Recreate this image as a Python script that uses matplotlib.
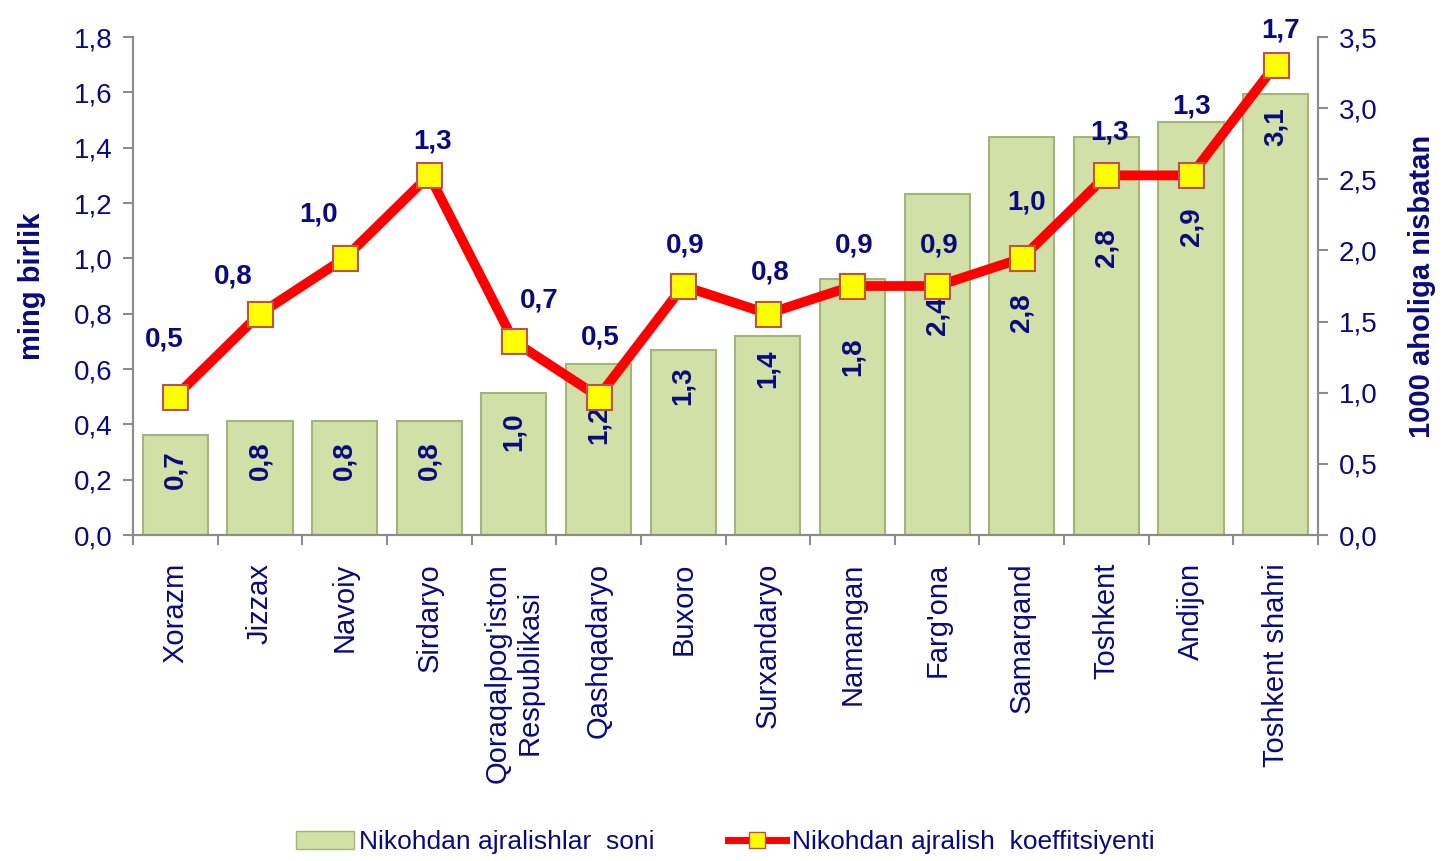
import matplotlib
matplotlib.use('Agg')
import matplotlib.pyplot as plt
from matplotlib.lines import Line2D
from matplotlib.patches import Patch

plt.rcParams['font.family'] = ['Liberation Sans', 'DejaVu Sans']

regions = ['Xorazm', 'Jizzax', 'Navoiy', 'Sirdaryo', "Qoraqalpog'iston\nRespublikasi",
           'Qashqadaryo', 'Buxoro', 'Surxandaryo', 'Namangan', "Farg'ona",
           'Samarqand', 'Toshkent', 'Andijon', 'Toshkent shahri']
# bars - right axis (1000 aholiga nisbatan)
soni = [0.7, 0.8, 0.8, 0.8, 1.0, 1.2, 1.3, 1.4, 1.8, 2.4, 2.8, 2.8, 2.9, 3.1]
# line - left axis (ming birlik)
koef = [0.5, 0.8, 1.0, 1.3, 0.7, 0.5, 0.9, 0.8, 0.9, 0.9, 1.0, 1.3, 1.3, 1.7]

# label placement tweaks (pixels), like the hand-moved labels of the original
bar_lab_gap = [15, 20, 20, 20, 20, 41, 16, 14, 58, 103, 157, 92, 85, 13]
line_lab_dx = [-11, -27, -26, 3, 25, 2, 2, 2, 2, 2, 5, 3, 0, 5]
line_lab_dy = [57, 37, 44, 34, 41, 59, 41, 41, 41, 41, 56, 43, 69, 34]

navy = '#0a0a80'
bar_col = '#d0e0a6'
bar_edge = '#a3b577'
grey = '#8c8c8c'
px = 0.72  # points per pixel at dpi 100

fig = plt.figure(figsize=(14.5, 8.61), dpi=100)
ax1 = fig.add_axes([0.0917, 0.3786, 0.8173, 0.5784])
ax2 = ax1.twinx()

x = list(range(len(regions)))
bars = ax2.bar(x, soni, width=0.77, color=bar_col, edgecolor=bar_edge, linewidth=1.5, zorder=1)

ax1.plot(x, koef, color='#ff0000', lw=7, marker='s', markersize=18,
         markerfacecolor='#ffff00', markeredgecolor='#c0504d', markeredgewidth=1.5,
         solid_joinstyle='miter', zorder=3)
ax1.set_zorder(ax2.get_zorder() + 1)
ax1.patch.set_visible(False)

# bar labels drawn on the top axes so they sit over the line where they meet
for b, v, g in zip(bars, soni, bar_lab_gap):
    ax1.annotate(f'{v:.1f}'.replace('.', ','), (b.get_x() + b.get_width() / 2, v / 3.5 * 1.8),
                 xytext=(0, -g * px), textcoords='offset points', rotation=90,
                 ha='center', va='top', fontsize=20, fontweight='bold', color=navy, zorder=2)

for xi, v, dx, dy in zip(x, koef, line_lab_dx, line_lab_dy):
    ax1.annotate(f'{v:.1f}'.replace('.', ','), (xi, v), xytext=(dx * px, dy * px),
                 textcoords='offset points', ha='center', va='center',
                 fontsize=20, fontweight='bold', color=navy)

ax1.set_xlim(-0.5, len(regions) - 0.5)
ax1.set_ylim(0, 1.8)
ax2.set_ylim(0, 3.5)
ax1.set_yticks([i * 0.2 for i in range(10)])
ax1.set_yticklabels([f'{i * 0.2:.1f}'.replace('.', ',') for i in range(10)])
ax2.set_yticks([i * 0.5 for i in range(8)])
ax2.set_yticklabels([f'{i * 0.5:.1f}'.replace('.', ',') for i in range(8)])

ax1.set_xticks([i - 0.5 for i in range(len(regions) + 1)])
ax1.set_xticklabels([])
ax1.set_xticks(x, minor=True)
ax1.set_xticklabels(regions, minor=True, rotation=90, ha='center', va='top',
                    fontsize=21, color=navy, multialignment='center')
ax1.tick_params(axis='x', which='minor', length=0, pad=20)
ax1.tick_params(axis='x', which='major', length=7, color=grey, width=1.5)

for a in (ax1, ax2):
    for s in a.spines.values():
        s.set_color(grey)
        s.set_linewidth(1.5)
    a.spines['top'].set_visible(False)
    a.tick_params(axis='y', labelsize=20, labelcolor=navy, color=grey, length=7, width=1.5, pad=8)

ax1.set_ylabel('ming birlik', fontsize=21, fontweight='bold', color=navy, labelpad=20)
ax2.set_ylabel('1000 aholiga nisbatan', fontsize=21, fontweight='bold', color=navy, labelpad=22)

handles = [Patch(facecolor=bar_col, edgecolor=bar_edge),
           Line2D([], [], color='#ff0000', lw=5, marker='s', markersize=12,
                  markerfacecolor='#ffff00', markeredgecolor='#c0504d')]
leg = fig.legend(handles, ['Nikohdan ajralishlar  soni', 'Nikohdan ajralish  koeffitsiyenti'],
                 loc='lower center', bbox_to_anchor=(0.5, -0.02), ncol=2, frameon=False,
                 fontsize=19, columnspacing=2.8, handlelength=2.2, handletextpad=0.2)
for t in leg.get_texts():
    t.set_color(navy)

fig.savefig('out.png', dpi=100)
